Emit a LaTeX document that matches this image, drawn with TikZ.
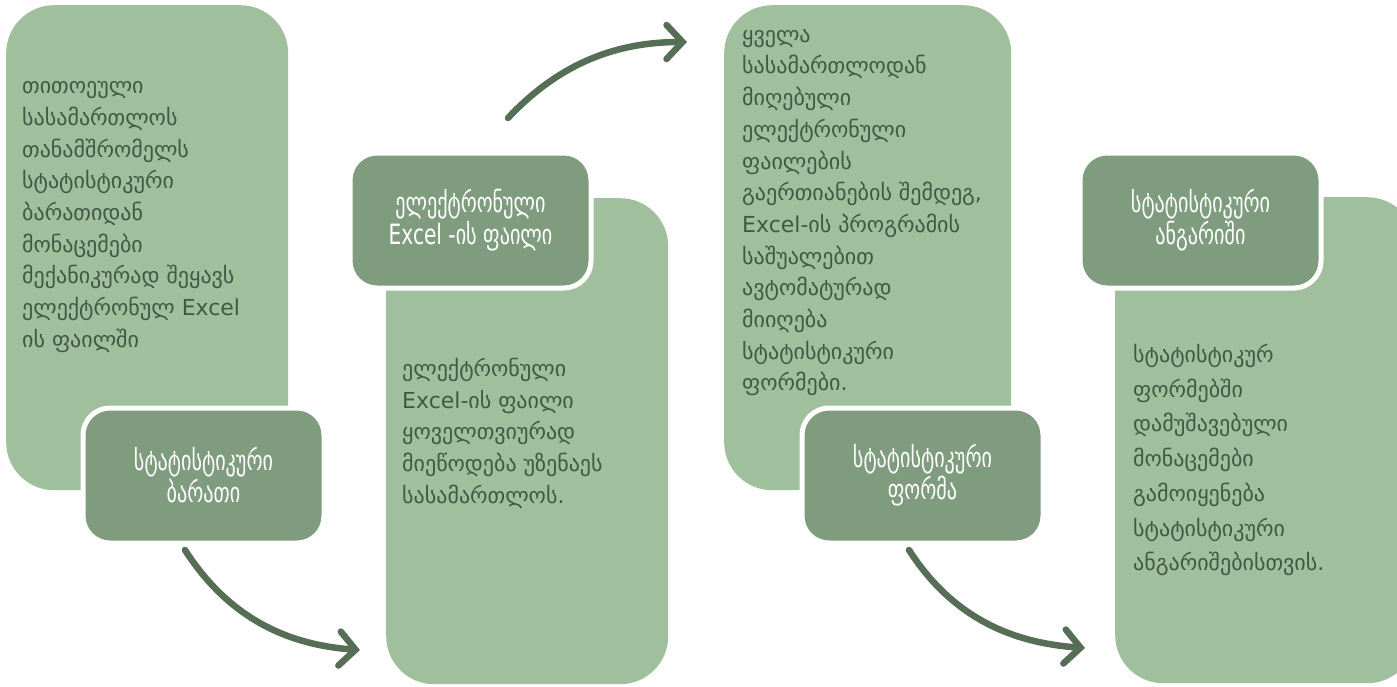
\documentclass[tikz,border=0pt]{standalone}
\usepackage{fontspec}
\setmainfont{DejaVu Sans}
\newfontfamily\titlefont[FakeStretch=0.72]{DejaVu Sans}
\usetikzlibrary{
  arrows.meta
}
\definecolor{panelgreen}{HTML}{A0BF9C}
\definecolor{headgreen}{HTML}{7F9C7E}
\definecolor{inkgreen}{HTML}{3E5A44}
\definecolor{arrowgreen}{HTML}{566E56}

\begin{document}
\begin{tikzpicture}[x=1pt, y=-1pt,
    panel/.style = {fill=panelgreen, rounded corners=48pt, anchor=north west,
      inner sep=0pt},
    header/.style = {fill=headgreen, draw=white, line width=5pt,
      rounded corners=27pt, minimum width=241pt, minimum height=135pt,
      anchor=north west, align=center, text=white,
      font=\titlefont\fontsize{28}{32}\selectfont},
    body/.style = {anchor=north west, inner sep=0pt, align=left,
      text=inkgreen, font=\fontsize{22}{31.7}\selectfont},
    flow/.style = {draw=arrowgreen, line width=6.5pt, line cap=round,
      -{Straight Barb[length=16pt, width=34pt, line cap=round]}}]
  \useasboundingbox (0,0) rectangle (1397,686);
  \node[panel, minimum width=282pt, minimum height=485pt] (card) at (6,5) {};
  \node[panel, minimum width=282pt, minimum height=486pt] (excel) at (386,198) {};
  \node[panel, minimum width=287pt, minimum height=485pt] (merge) at (724,5) {};
  \node[panel, minimum width=300pt, minimum height=486pt] (report) at (1115,197) {};
  \node[header] (cardhead) at (80.5,405.5) {სტატისტიკური\\ბარათი};
  \node[header] (excelhead) at (347.5,150.5) {ელექტრონული\\Excel -ის ფაილი};
  \node[header] (formhead) at (799.5,405.5) {სტატისტიკური\\ფორმა};
  \node[header] (reporthead) at (1077.5,150.5) {სტატისტიკური\\ანგარიში};
  \node[body] (cardtext) at (22,81) {თითოეული\\სასამართლოს\\თანამშრომელს\\სტატისტიკური\\ბარათიდან\\მონაცემები\\მექანიკურად შეყავს\\ელექტრონულ Excel\\ის ფაილში};
  \node[body] (exceltext) at (402,358) {ელექტრონული\\Excel-ის ფაილი\\ყოველთვიურად\\მიეწოდება უზენაეს\\სასამართლოს.};
  \node[body] (mergetext) at (742,29) {ყველა\\სასამართლოდან\\მიღებული\\ელექტრონული\\ფაილების\\გაერთიანების შემდეგ,\\Excel-ის პროგრამის\\საშუალებით\\ავტომატურად\\მიიღება\\სტატისტიკური\\ფორმები.};
  \node[body, font=\fontsize{22}{34.7}\selectfont] (reporttext) at (1133,344) {სტატისტიკურ\\ფორმებში\\დამუშავებული\\მონაცემები\\გამოიყენება\\სტატისტიკური\\ანგარიშებისთვის.};
  \coordinate (from1) at (185,550);
  \coordinate (to1) at (360,650);
  \coordinate (from2) at (508,118);
  \coordinate (to2) at (687,42);
  \coordinate (from3) at (909,550);
  \coordinate (to3) at (1085,648);
  \draw[flow] (from1) .. controls +(45,70) and +(-70,-5) .. (to1);
  \draw[flow] (from2) .. controls +(47,-50) and +(-77,0) .. (to2);
  \draw[flow] (from3) .. controls +(45,70) and +(-70,-5) .. (to3);
\end{tikzpicture}
\end{document}
